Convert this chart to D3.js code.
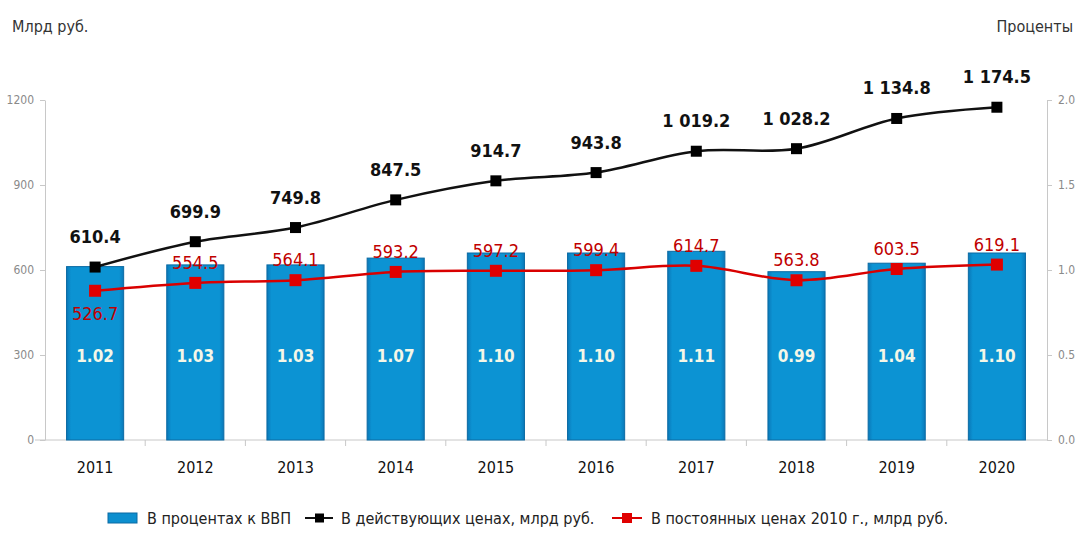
<!DOCTYPE html>
<meta charset="utf-8">
<style>
body { margin: 0; background: #fff; }
text { font-family: "Liberation Sans Narrow", "DejaVu Sans Condensed", "Liberation Sans", sans-serif; }
.axis text { fill: #8a8a8a; font-size: 12px; }
.axis path, .axis line { stroke: #c8c8c8; }
</style>
<body>
<script src="https://d3js.org/d3.v7.min.js"></script>
<script>

// data
var years = ["2011", "2012", "2013", "2014", "2015", "2016", "2017", "2018", "2019", "2020"];
var gdpShare = [1.02, 1.03, 1.03, 1.07, 1.10, 1.10, 1.11, 0.99, 1.04, 1.10];
var current = [610.4, 699.9, 749.8, 847.5, 914.7, 943.8, 1019.2, 1028.2, 1134.8, 1174.5];
var constant2010 = [526.7, 554.5, 564.1, 593.2, 597.2, 599.4, 614.7, 563.8, 603.5, 619.1];
var leftTicks = [0, 300, 600, 900, 1200];
var rightTicks = [0, 0.5, 1.0, 1.5, 2.0];

var W = 1077, H = 534;
var m = {left: 45, right: 1047, top: 100, bottom: 440};

var svg = d3.select("body").append("svg")
    .attr("width", W)
    .attr("height", H);

var x = d3.scaleBand()
    .domain(years)
    .range([m.left, m.right])
    .paddingInner(0.43)
    .paddingOuter(0.215);
var yL = d3.scaleLinear().domain([0, 1200]).range([m.bottom, m.top]);
var yR = d3.scaleLinear().domain([0, 2]).range([m.bottom, m.top]);

function fmt(v) {
  var s = v.toFixed(1);
  var p = s.split(".");
  return p[0].replace(/\B(?=(\d{3})+(?!\d))/g, " ") + "." + p[1];
}

// gradient for bars
var defs = svg.append("defs");
var grad = defs.append("linearGradient").attr("id", "barg")
    .attr("x1", 0).attr("x2", 1).attr("y1", 0).attr("y2", 0);
grad.append("stop").attr("offset", "0%").attr("stop-color", "#0a78b8");
grad.append("stop").attr("offset", "8%").attr("stop-color", "#0c93d3");
grad.append("stop").attr("offset", "92%").attr("stop-color", "#0c93d3");
grad.append("stop").attr("offset", "100%").attr("stop-color", "#0a78b8");

// axes
svg.append("g")
    .attr("class", "axis")
    .attr("transform", "translate(" + m.left + ",0)")
    .call(d3.axisLeft(yL).tickValues(leftTicks).tickFormat(d3.format("d")).tickSize(5).tickSizeOuter(0).tickPadding(6));

svg.append("g")
    .attr("class", "axis")
    .attr("transform", "translate(" + m.right + ",0)")
    .call(d3.axisRight(yR).tickValues(rightTicks).tickFormat(d3.format(".1f")).tickSize(5).tickSizeOuter(0).tickPadding(6));

// bottom baseline with ticks between categories
var xa = svg.append("g").attr("class", "axis");
xa.append("line")
    .attr("x1", m.left - 10).attr("x2", m.right)
    .attr("y1", m.bottom).attr("y2", m.bottom);
var step = x.step();
d3.range(1, years.length).forEach(function(i) {
  var xx = x(years[i]) - (step - x.bandwidth()) / 2;
  xa.append("line").attr("x1", xx).attr("x2", xx).attr("y1", m.bottom).attr("y2", m.bottom + 6);
});
svg.selectAll(".year")
    .data(years)
  .enter().append("text")
    .attr("x", function(d) { return x(d) + x.bandwidth() / 2; })
    .attr("y", 473)
    .attr("text-anchor", "middle")
    .attr("font-size", "16px")
    .attr("fill", "#111")
    .text(function(d) { return d; });

// bars
svg.selectAll(".bar")
    .data(gdpShare)
  .enter().append("rect")
    .attr("x", function(d, i) { return x(years[i]); })
    .attr("width", x.bandwidth())
    .attr("y", function(d) { return yR(d); })
    .attr("height", function(d) { return m.bottom - yR(d); })
    .attr("fill", "url(#barg)")
    .attr("stroke", "#0b6aa3")
    .attr("stroke-width", 1);

svg.selectAll(".barlbl")
    .data(gdpShare)
  .enter().append("text")
    .attr("x", function(d, i) { return x(years[i]) + x.bandwidth() / 2; })
    .attr("y", 362)
    .attr("text-anchor", "middle")
    .attr("font-size", "17px")
    .attr("font-weight", "bold")
    .attr("fill", "#f4f7e8")
    .text(function(d) { return d.toFixed(2); });

// lines
var cx = function(i) { return x(years[i]) + x.bandwidth() / 2; };
var line = d3.line()
    .x(function(d, i) { return cx(i); })
    .y(function(d) { return yL(d); })
    .curve(d3.curveCatmullRom.alpha(0.5));

svg.append("path").datum(constant2010)
    .attr("d", line).attr("fill", "none")
    .attr("stroke", "#d90000").attr("stroke-width", 2.5);
svg.append("path").datum(current)
    .attr("d", line).attr("fill", "none")
    .attr("stroke", "#111").attr("stroke-width", 2.5);

svg.selectAll(".mr")
    .data(constant2010)
  .enter().append("rect")
    .attr("x", function(d, i) { return cx(i) - 6; })
    .attr("y", function(d) { return yL(d) - 6; })
    .attr("width", 12).attr("height", 12)
    .attr("fill", "#e00000");
svg.selectAll(".mb")
    .data(current)
  .enter().append("rect")
    .attr("x", function(d, i) { return cx(i) - 5.5; })
    .attr("y", function(d) { return yL(d) - 5.5; })
    .attr("width", 11).attr("height", 11)
    .attr("fill", "#000");

// line labels
svg.selectAll(".lb")
    .data(current)
  .enter().append("text")
    .attr("x", function(d, i) { return cx(i); })
    .attr("y", function(d) { return yL(d) - 24; })
    .attr("text-anchor", "middle")
    .attr("font-size", "18px")
    .attr("font-weight", "bold")
    .attr("fill", "#111")
    .text(function(d) { return fmt(d); });
svg.selectAll(".lr")
    .data(constant2010)
  .enter().append("text")
    .attr("x", function(d, i) { return cx(i); })
    .attr("y", function(d, i) { return i === 0 ? yL(d) + 29 : yL(d) - 14; })
    .attr("text-anchor", "middle")
    .attr("font-size", "18px")
    .attr("fill", "#c00000")
    .text(function(d) { return fmt(d); });

// axis titles
svg.append("text").attr("x", 12).attr("y", 32)
    .attr("font-size", "16px").attr("fill", "#333").text("Млрд руб.");
svg.append("text").attr("x", 1073).attr("y", 32).attr("text-anchor", "end")
    .attr("font-size", "16px").attr("fill", "#333").text("Проценты");

// legend
var lg = svg.append("g").attr("font-size", "16px").attr("fill", "#222");
lg.append("rect").attr("x", 108).attr("y", 513).attr("width", 29).attr("height", 10)
    .attr("fill", "#0c8fcf").attr("stroke", "#0b6aa3");
lg.append("text").attr("x", 147).attr("y", 524).text("В процентах к ВВП");
lg.append("line").attr("x1", 305).attr("x2", 333).attr("y1", 518).attr("y2", 518)
    .attr("stroke", "#111").attr("stroke-width", 2);
lg.append("rect").attr("x", 315).attr("y", 513.5).attr("width", 9).attr("height", 9).attr("fill", "#000");
lg.append("text").attr("x", 341).attr("y", 524).text("В действующих ценах, млрд руб.");
lg.append("line").attr("x1", 612).attr("x2", 642).attr("y1", 518).attr("y2", 518)
    .attr("stroke", "#d90000").attr("stroke-width", 2);
lg.append("rect").attr("x", 622).attr("y", 513).attr("width", 10).attr("height", 10).attr("fill", "#e00000");
lg.append("text").attr("x", 651).attr("y", 524).text("В постоянных ценах 2010 г., млрд руб.");

</script>
</body>
